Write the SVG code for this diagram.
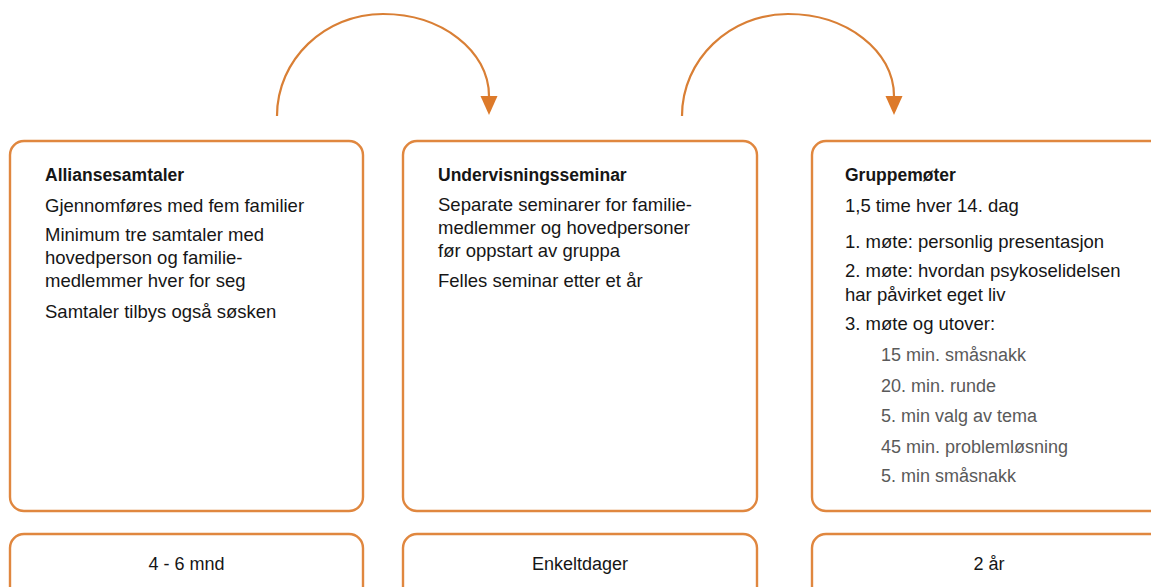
<svg xmlns="http://www.w3.org/2000/svg" width="1151" height="587" viewBox="0 0 1151 587">
<style>
.box{fill:#ffffff;stroke:#e0873f;stroke-width:2.4}
.arc{fill:none;stroke:#d97f35;stroke-width:2.2}
.t{font-family:"Liberation Sans",Arial,sans-serif;font-weight:bold;font-size:17.5px;fill:#161616}
.b{font-family:"Liberation Sans",Arial,sans-serif;font-size:18.5px;fill:#161616}
.s{font-family:"Liberation Sans",Arial,sans-serif;font-size:18px;fill:#5a5a5a}
.d{font-family:"Liberation Sans",Arial,sans-serif;font-size:18px;fill:#161616;text-anchor:middle}
</style>
<defs>
<marker id="ah" markerUnits="userSpaceOnUse" markerWidth="20" markerHeight="18" viewBox="0 0 20 18" refX="0" refY="8.5" orient="auto">
<path d="M0,0 L19,8.5 L0,17 Z" fill="#dd7a2a"/>
</marker>
</defs>
<rect width="1151" height="587" fill="#ffffff"/>
<g id="connectors">
<path class="arc" d="M277,116 C277,59.7 324.5,14 383,14 C441.5,14 489,50.7 489,96" marker-end="url(#ah)"/>
<path class="arc" d="M682,116 C682,59.7 729.5,14 788,14 C846.5,14 894,50.7 894,96" marker-end="url(#ah)"/>
</g>
<g id="allianse">
<rect class="box" x="10" y="141" width="353" height="370" rx="14"/>
<text class="t" x="45" y="181">Alliansesamtaler</text>
<text class="b" x="45" y="212">Gjennomføres med fem familier</text>
<text class="b" x="45" y="241">Minimum tre samtaler med</text>
<text class="b" x="45" y="264">hovedperson og familie-</text>
<text class="b" x="45" y="287">medlemmer hver for seg</text>
<text class="b" x="45" y="318">Samtaler tilbys også søsken</text>
</g>
<g id="undervisning">
<rect class="box" x="403" y="141" width="354" height="370" rx="14"/>
<text class="t" x="438" y="181">Undervisningsseminar</text>
<text class="b" x="438" y="211">Separate seminarer for familie-</text>
<text class="b" x="438" y="234">medlemmer og hovedpersoner</text>
<text class="b" x="438" y="257">før oppstart av gruppa</text>
<text class="b" x="438" y="287">Felles seminar etter et år</text>
</g>
<g id="gruppe">
<rect class="box" x="812" y="141" width="354" height="370" rx="14"/>
<text class="t" x="845" y="181">Gruppemøter</text>
<text class="b" x="845" y="212">1,5 time hver 14. dag</text>
<text class="b" x="845" y="248">1. møte: personlig presentasjon</text>
<text class="b" x="845" y="277">2. møte: hvordan psykoselidelsen</text>
<text class="b" x="845" y="301">har påvirket eget liv</text>
<text class="b" x="845" y="330">3. møte og utover:</text>
<text class="s" x="881" y="361">15 min. småsnakk</text>
<text class="s" x="881" y="392">20. min. runde</text>
<text class="s" x="881" y="422">5. min valg av tema</text>
<text class="s" x="881" y="453">45 min. problemløsning</text>
<text class="s" x="881" y="482">5. min småsnakk</text>
</g>
<g id="varighet1">
<rect class="box" x="10" y="534" width="353" height="70" rx="14"/>
<text class="d" x="186.5" y="570">4 - 6 mnd</text>
</g>
<g id="varighet2">
<rect class="box" x="403" y="534" width="354" height="70" rx="14"/>
<text class="d" x="580" y="570">Enkeltdager</text>
</g>
<g id="varighet3">
<rect class="box" x="812" y="534" width="354" height="70" rx="14"/>
<text class="d" x="989" y="570">2 år</text>
</g>
</svg>
